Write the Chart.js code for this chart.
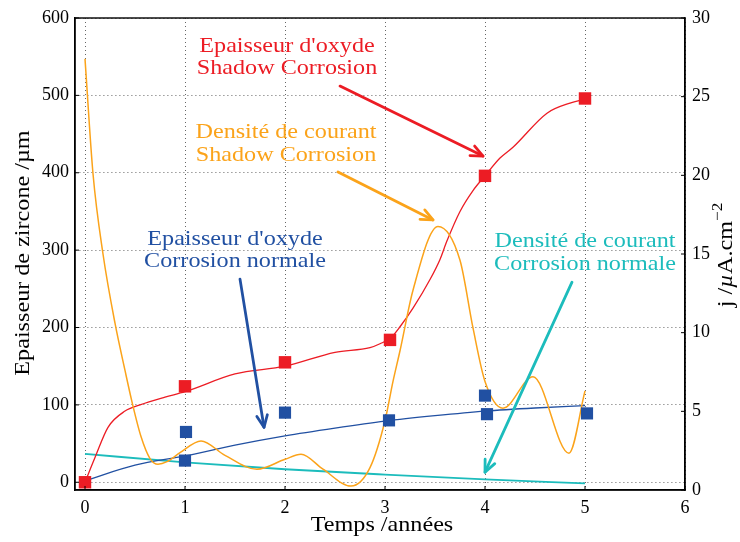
<!DOCTYPE html>
<html><head><meta charset="utf-8">
<script src="https://cdn.jsdelivr.net/npm/chart.js@4"></script>
<style>html,body{margin:0;padding:0;background:#fff}</style>
</head><body>
<canvas id="c" width="740" height="542"></canvas>
<script>
// ---- tick labels ----
const xTicks = [0, 1, 2, 3, 4, 5, 6];
const leftTicks = [0, 100, 200, 300, 400, 500, 600];
const rightTicks = [0, 5, 10, 15, 20, 25, 30];

// ---- oxide thickness, shadow corrosion (µm) ----
const shadowOxideYears = [0, 1, 2, 3.05, 4, 5];
const shadowOxide = [0, 124, 155, 184, 396, 496];
const shadowFitYears = [0, 0.1, 0.23, 0.4, 0.55, 0.8, 1.0, 1.5, 2.0, 2.5, 2.85, 2.95, 3.06, 3.15, 3.28, 3.45, 3.55, 3.62, 3.75, 3.88, 4.0, 4.15, 4.28, 4.62, 4.85, 5.0];
const shadowFit = [0, 32, 71, 92, 100, 110, 117, 140, 150, 168, 174, 179, 187, 201, 225, 262, 288, 312, 350, 377, 396, 419, 433, 477, 490, 495];

// ---- oxide thickness, normal corrosion (µm) ----
const normalOxideYears = [1.01, 1.0, 2.0, 3.04, 4.0, 4.02, 5.02];
const normalOxide = [65, 28, 90, 80, 112, 88, 89];
const normalFitYears = [0, 0.5, 1, 1.5, 2, 2.5, 3, 3.5, 4, 4.5, 5];
const normalFit = [2, 22, 34, 48, 60, 70, 79, 86, 92, 96, 99];

// ---- current density, shadow corrosion (µA/cm²) ----
const shadowCurrentYears = [0, 0.08, 0.18, 0.3, 0.4, 0.47, 0.56, 0.65, 0.73, 0.82, 0.95, 1.16, 1.4, 1.72, 2.0, 2.16, 2.38, 2.66, 2.85, 3.0, 3.08, 3.15, 3.28, 3.53, 3.75, 3.88, 4.0, 4.18, 4.48, 4.84, 5.0];
const shadowCurrent = [27.4, 20.1, 15.0, 10.6, 7.6, 5.6, 3.4, 2.0, 1.64, 1.8, 2.37, 3.12, 2.2, 1.32, 1.95, 2.27, 1.32, 0.25, 1.42, 4.4, 6.9, 8.85, 12.7, 16.75, 14.6, 10.3, 6.9, 5.2, 7.2, 2.34, 6.3];

// ---- current density, normal corrosion (µA/cm²) ----
const normalCurrentYears = [0, 1, 2, 3, 4, 5];
const normalCurrent = [2.3, 1.75, 1.32, 0.98, 0.68, 0.42];

const RED = '#ec1c24', BLUE = '#2150a2', ORANGE = '#fba31a', CYAN = '#1cbcbc';
const SERIF = '"Liberation Serif", "DejaVu Serif", serif';
const STRETCH = 1.15;

const pts = (xs, ys) => xs.map((x, i) => ({x: x, y: ys[i]}));

// annotations: text in data coordinates (years, left axis µm)
const notes = [
  {lines: ["Epaisseur d'oxyde", 'Shadow Corrosion'], color: RED, x: 2.02, y: [556, 527.6], from: [2.55, 512], to: [3.98, 421.6]},
  {lines: ['Densité de courant', 'Shadow Corrosion'], color: ORANGE, x: 2.01, y: [445, 415], from: [2.53, 401], to: [3.48, 339]},
  {lines: ["Epaisseur d'oxyde", 'Corrosion normale'], color: BLUE, x: 1.5, y: [306.5, 278], from: [1.55, 262.5], to: [1.79, 71]},
  {lines: ['Densité de courant', 'Corrosion normale'], color: CYAN, x: 5.0, y: [304, 274], from: [4.87, 258.6], to: [4.0, 13]}
];

function stretchedText(ctx, text, x, y, rot) {
  ctx.save();
  ctx.translate(x, y);
  if (rot) ctx.rotate(rot);
  ctx.scale(STRETCH, 1);
  ctx.fillText(text, 0, 0);
  ctx.restore();
}

function arrow(ctx, x1, y1, x2, y2, color, w) {
  ctx.save();
  ctx.strokeStyle = color; ctx.lineWidth = w; ctx.lineCap = 'round'; ctx.lineJoin = 'round';
  ctx.beginPath(); ctx.moveTo(x1, y1); ctx.lineTo(x2, y2); ctx.stroke();
  const a = Math.atan2(y2 - y1, x2 - x1), L = 13, sp = 0.42;
  ctx.beginPath();
  ctx.moveTo(x2 - L * Math.cos(a - sp), y2 - L * Math.sin(a - sp));
  ctx.lineTo(x2, y2);
  ctx.lineTo(x2 - L * Math.cos(a + sp), y2 - L * Math.sin(a + sp));
  ctx.stroke();
  ctx.restore();
}

const deco = {
  id: 'deco',
  afterDraw(chart) {
    const ctx = chart.ctx, ca = chart.chartArea;
    const xs = chart.scales.x, yl = chart.scales.y, yr = chart.scales.y2;
    ctx.save();
    // frame
    ctx.strokeStyle = '#000'; ctx.lineWidth = 1.4;
    ctx.strokeRect(ca.left, ca.top, ca.right - ca.left, ca.bottom - ca.top);
    // inward ticks
    ctx.lineWidth = 1;
    ctx.beginPath();
    xTicks.forEach(v => { const p = xs.getPixelForValue(v); ctx.moveTo(p, ca.bottom); ctx.lineTo(p, ca.bottom - 4); });
    leftTicks.forEach(v => { const p = yl.getPixelForValue(v); ctx.moveTo(ca.left, p); ctx.lineTo(ca.left + 4, p); });
    rightTicks.forEach(v => { const p = yr.getPixelForValue(v); ctx.moveTo(ca.right, p); ctx.lineTo(ca.right - 4, p); });
    ctx.stroke();
    // annotations
    ctx.font = '21px ' + SERIF;
    ctx.textAlign = 'center'; ctx.textBaseline = 'alphabetic';
    notes.forEach(n => {
      ctx.fillStyle = n.color;
      const cx = xs.getPixelForValue(n.x);
      n.lines.forEach((t, i) => stretchedText(ctx, t, cx, yl.getPixelForValue(n.y[i]), 0));
      arrow(ctx, xs.getPixelForValue(n.from[0]), yl.getPixelForValue(n.from[1]),
            xs.getPixelForValue(n.to[0]), yl.getPixelForValue(n.to[1]), n.color, 2.8);
    });
    // axis titles
    ctx.fillStyle = '#000';
    ctx.font = '21px ' + SERIF;
    ctx.textAlign = 'center';
    stretchedText(ctx, 'Temps /années', (ca.left + ca.right) / 2 + 2, 531, 0);
    const midY = (ca.top + ca.bottom) / 2 - 1;
    stretchedText(ctx, 'Epaisseur de zircone /µm', 29, midY, -Math.PI / 2);
    // right title: j /µA.cm^-2
    ctx.save();
    ctx.translate(732, midY + 2); ctx.rotate(-Math.PI / 2); ctx.scale(STRETCH, 1);
    const parts = [
      {t: 'j /', f: '21px ' + SERIF, dy: 0},
      {t: 'µ', f: 'italic 21px ' + SERIF, dy: 0},
      {t: 'A.cm', f: '21px ' + SERIF, dy: 0},
      {t: '−2', f: '15px ' + SERIF, dy: -10}
    ];
    let total = 0;
    parts.forEach(p => { ctx.font = p.f; p.w = ctx.measureText(p.t).width; total += p.w; });
    let px = -total / 2;
    ctx.textAlign = 'left';
    parts.forEach(p => { ctx.font = p.f; ctx.fillText(p.t, px, p.dy); px += p.w; });
    ctx.restore();
    ctx.restore();
  }
};

const tickFont = {family: SERIF, size: 18};

new Chart(document.getElementById('c'), {
  type: 'line',
  data: {
    datasets: [
      {data: pts(shadowOxideYears, shadowOxide), yAxisID: 'y', showLine: false, pointStyle: 'rect', pointRadius: 8.8, backgroundColor: RED, borderColor: RED, borderWidth: 0, order: 1},
      {data: pts(normalOxideYears, normalOxide), yAxisID: 'y', showLine: false, pointStyle: 'rect', pointRadius: 8.6, backgroundColor: BLUE, borderColor: BLUE, borderWidth: 0, order: 2},
      {data: pts(shadowCurrentYears, shadowCurrent), yAxisID: 'y2', borderColor: ORANGE, borderWidth: 1.5, pointRadius: 0, cubicInterpolationMode: 'monotone', fill: false, order: 3},
      {data: pts(shadowFitYears, shadowFit), yAxisID: 'y', borderColor: RED, borderWidth: 1.3, pointRadius: 0, cubicInterpolationMode: 'monotone', fill: false, order: 4},
      {data: pts(normalFitYears, normalFit), yAxisID: 'y', borderColor: BLUE, borderWidth: 1.3, pointRadius: 0, cubicInterpolationMode: 'monotone', fill: false, order: 5},
      {data: pts(normalCurrentYears, normalCurrent), yAxisID: 'y2', borderColor: CYAN, borderWidth: 1.8, pointRadius: 0, cubicInterpolationMode: 'monotone', fill: false, order: 6}
    ]
  },
  options: {
    responsive: false, animation: false, events: [],
    layout: {padding: {top: 18, left: 0, right: 0, bottom: 0}},
    plugins: {legend: {display: false}, tooltip: {enabled: false}},
    scales: {
      x: {
        type: 'linear', min: -0.1, max: 6,
        afterBuildTicks: s => { s.ticks = xTicks.map(v => ({value: v})); },
        afterFit: s => { s.height = 52; },
        grid: {color: '#666', lineWidth: 1, drawTicks: false},
        border: {display: true, color: '#000', width: 1.4, dash: [1, 3]},
        ticks: {padding: 7, color: '#000', font: tickFont, maxRotation: 0, autoSkip: false}
      },
      y: {
        position: 'left', min: -10, max: 600,
        afterBuildTicks: s => { s.ticks = leftTicks.map(v => ({value: v})); },
        afterFit: s => { s.width = 75; },
        grid: {color: '#666', lineWidth: 1, drawTicks: false},
        border: {display: true, color: '#000', width: 1.4, dash: [1, 3]},
        ticks: {padding: 6, color: '#000', font: tickFont, autoSkip: false}
      },
      y2: {
        position: 'right', min: 0, max: 30,
        afterBuildTicks: s => { s.ticks = rightTicks.map(v => ({value: v})); },
        afterFit: s => { s.width = 55; },
        grid: {display: false, drawTicks: false, drawOnChartArea: false},
        border: {display: true, color: '#000', width: 1.4},
        ticks: {padding: 7, color: '#000', font: tickFont, autoSkip: false}
      }
    }
  },
  plugins: [deco]
});
</script>
</body></html>
